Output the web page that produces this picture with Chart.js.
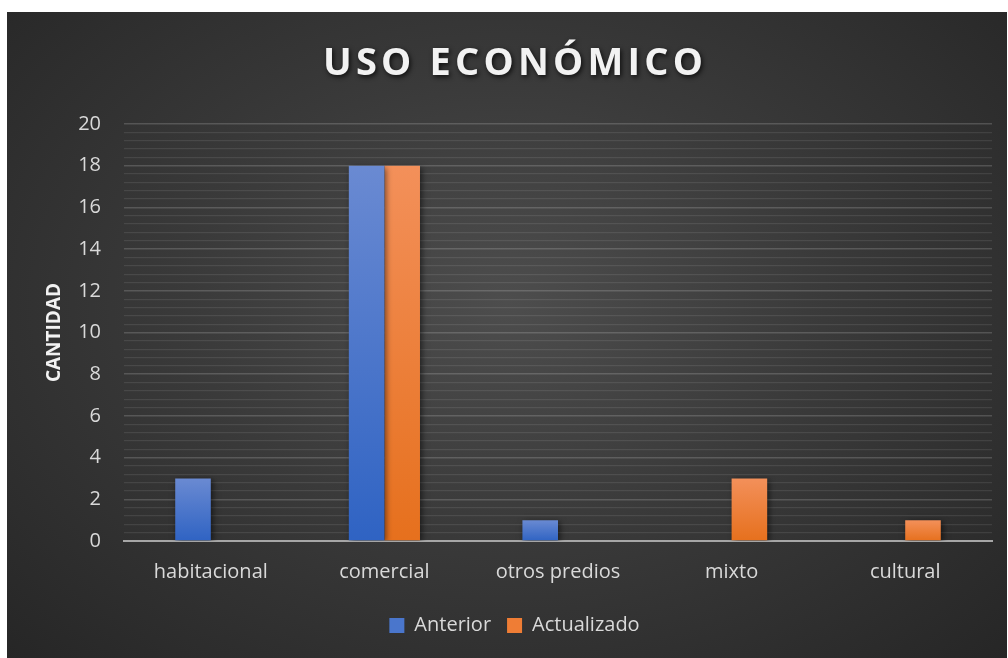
<!DOCTYPE html>
<html>
<head>
<meta charset="utf-8">
<script src="https://cdn.jsdelivr.net/npm/chart.js@4"></script>
<style>
  html, body { margin: 0; padding: 0; background: #ffffff; }
  #wrap {
    position: absolute; left: 7px; top: 12px; width: 1000px; height: 646px;
    background: radial-gradient(ellipse farthest-corner at 50% 45%, #4d4d4d 0%, #3a3a3a 45%, #262626 100%);
  }
  canvas { display: block; }
</style>
</head>
<body>
<div id="wrap"><canvas id="c" width="1000" height="646"></canvas></div>
<script>
const chartTitle = 'USO ECONÓMICO';
const categories = ['habitacional', 'comercial', 'otros predios', 'mixto', 'cultural'];
const seriesNames = ['Anterior', 'Actualizado'];
const anterior = [3, 18, 1, 0, 0];
const actualizado = [0, 18, 0, 3, 1];
const yAxisTitle = 'CANTIDAD';
const yMin = 0, yMax = 20, yMinorStep = 0.4, yLabelStep = 2;

const FONT = '"Open Sans", "DejaVu Sans", sans-serif';

function barGradient(top, bottom) {
  return function (ctx) {
    const chart = ctx.chart;
    const area = chart.chartArea;
    if (!area || ctx.raw == null) return bottom;
    const ys = chart.scales.y;
    const yTop = ys.getPixelForValue(ctx.raw);
    const yBot = ys.getPixelForValue(0);
    if (!(yBot > yTop)) return bottom;
    const g = chart.ctx.createLinearGradient(0, yTop, 0, yBot);
    g.addColorStop(0, top);
    g.addColorStop(1, bottom);
    return g;
  };
}

const titlePlugin = {
  id: 'customTitle',
  afterDraw(chart) {
    const ctx = chart.ctx;
    ctx.save();
    ctx.font = 'bold 38px ' + FONT;
    const ls = 4.2;
    if ('letterSpacing' in ctx) ctx.letterSpacing = ls + 'px';
    ctx.textAlign = 'center';
    ctx.textBaseline = 'alphabetic';
    ctx.shadowColor = 'rgba(0,0,0,0.75)';
    ctx.shadowBlur = 5;
    ctx.shadowOffsetX = 1.5;
    ctx.shadowOffsetY = 2;
    ctx.fillStyle = '#f2f2f2';
    ctx.fillText(chartTitle, 506 + ls / 2, 63);
    ctx.restore();
  }
};

const shadowPlugin = {
  id: 'barShadow',
  beforeDatasetsDraw(chart) {
    const ctx = chart.ctx;
    ctx.save();
    ctx.shadowColor = 'rgba(0,0,0,0.55)';
    ctx.shadowBlur = 6;
    ctx.shadowOffsetX = 2;
    ctx.shadowOffsetY = 2;
  },
  afterDatasetsDraw(chart) {
    chart.ctx.restore();
  }
};

function isMajor(v) {
  const r = v / yLabelStep;
  return Math.abs(r - Math.round(r)) < 1e-6;
}

new Chart(document.getElementById('c'), {
  type: 'bar',
  data: {
    labels: categories,
    datasets: [
      {
        label: seriesNames[0],
        data: anterior,
        backgroundColor: barGradient('#6a8ad2', '#2f63c3'),
        borderWidth: 0,
        categoryPercentage: 0.41,
        barPercentage: 1.0
      },
      {
        label: seriesNames[1],
        data: actualizado,
        backgroundColor: barGradient('#f3905a', '#e6701d'),
        borderWidth: 0,
        categoryPercentage: 0.41,
        barPercentage: 1.0
      }
    ]
  },
  options: {
    responsive: false,
    animation: false,
    layout: { padding: { top: 112, right: 15, bottom: 12.5, left: 30 } },
    plugins: {
      title: { display: false },
      tooltip: { enabled: false },
      legend: {
        position: 'bottom',
        labels: {
          color: '#d9d9d9',
          font: { family: FONT, size: 20 },
          boxWidth: 15,
          boxHeight: 15,
          padding: 16,
          generateLabels(chart) {
            const solid = ['#4a76cc', '#ef7d35'];
            return chart.data.datasets.map((ds, i) => ({
              text: ds.label,
              fillStyle: solid[i],
              strokeStyle: solid[i],
              lineWidth: 0,
              fontColor: '#d9d9d9',
              datasetIndex: i,
              hidden: false
            }));
          }
        }
      }
    },
    scales: {
      x: {
        grid: { display: false, drawTicks: false },
        border: { display: true, color: '#a6a6a6', width: 2 },
        ticks: {
          color: '#d9d9d9',
          font: { family: FONT, size: 20 },
          padding: 19,
          maxRotation: 0,
          autoSkip: false
        },
        afterFit(scale) { scale.height = 58.5; }
      },
      y: {
        min: yMin,
        max: yMax,
        grid: {
          drawTicks: false,
          color(ctx) {
            if (!ctx.tick) return 'rgba(255,255,255,0.08)';
            if (ctx.tick.value === 0) return 'rgba(0,0,0,0)';
            return isMajor(ctx.tick.value) ? 'rgba(255,255,255,0.17)' : 'rgba(255,255,255,0.09)';
          },
          lineWidth(ctx) {
            return ctx.tick && isMajor(ctx.tick.value) ? 1.6 : 1.2;
          }
        },
        border: { display: false },
        ticks: {
          stepSize: yMinorStep,
          autoSkip: false,
          color: '#d9d9d9',
          font: { family: FONT, size: 20 },
          padding: 23,
          callback(v) {
            return isMajor(v) ? String(Math.round(v)) : '';
          }
        },
        title: {
          display: true,
          text: yAxisTitle,
          color: '#f2f2f2',
          font: { family: FONT, size: 19, weight: 'bold' },
          padding: { top: 6.6, bottom: 0 }
        },
        afterFit(scale) { scale.width = 87; }
      }
    }
  },
  plugins: [shadowPlugin, titlePlugin]
});
</script>
</body>
</html>
